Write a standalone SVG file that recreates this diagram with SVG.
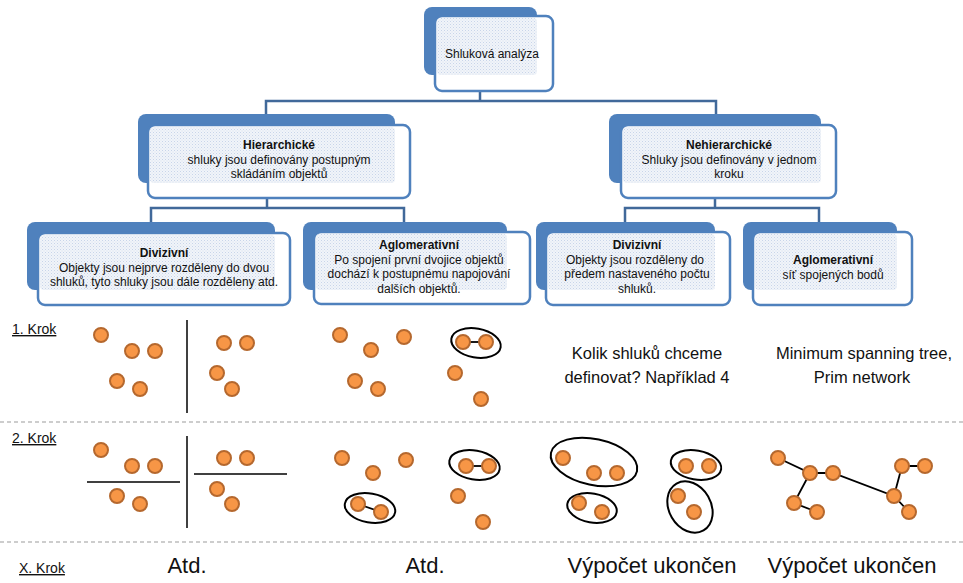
<svg xmlns="http://www.w3.org/2000/svg" width="963" height="583" viewBox="0 0 963 583">
<defs>
<pattern id="dots" width="3" height="3" patternUnits="userSpaceOnUse">
<rect width="3" height="3" fill="#F1F4F9"/>
<rect x="0" y="0" width="1" height="1" fill="#C8D5E9"/>
<rect x="1.5" y="1.5" width="1" height="1" fill="#D6E0EE"/>
</pattern>
</defs>
<style>
.back{fill:#4F81BD;}
.front{fill:#FFFFFF;stroke:#4F81BD;stroke-width:2.5;}
.pat{fill:url(#dots);}
.conn{fill:none;stroke:#41699A;stroke-width:2.5;}
.nt{font-family:"Liberation Sans",Arial,sans-serif;font-size:12px;fill:#111111;text-anchor:middle;}
.b{font-weight:bold;}
.dot{fill:#F79646;stroke:#B5682E;stroke-width:2;}
.ell{fill:none;stroke:#000;stroke-width:2;}
.ln{stroke:#000;stroke-width:1.8;fill:none;}
.sep{stroke:#000;stroke-width:1.5;}
.dash{stroke:#BDBDBD;stroke-width:1.5;stroke-dasharray:4 3;}
.lab{font-family:"Liberation Sans",Arial,sans-serif;font-size:14px;fill:#111;text-decoration:underline;}
.big{font-family:"Liberation Sans",Arial,sans-serif;font-size:16.5px;fill:#111;text-anchor:middle;}
.huge{font-family:"Liberation Sans",Arial,sans-serif;font-size:22px;fill:#111;text-anchor:middle;}
</style>
<rect width="963" height="583" fill="#FFFFFF"/>

<g id="connectors">
<path class="conn" d="M480,91 V101"/>
<path class="conn" d="M266,114 V101 H716 V114"/>
<path class="conn" d="M267,198 V208"/>
<path class="conn" d="M151,222 V208 H404 V222"/>
<path class="conn" d="M715,198 V208"/>
<path class="conn" d="M625,222 V208 H819 V222"/>
</g>

<g id="node-shlukova">
<rect class="back" x="424" y="7" width="113" height="68" rx="8"/>
<rect class="front" x="435" y="16" width="118" height="75" rx="7"/>
<rect class="pat" x="437" y="18" width="100" height="57" rx="4"/>
<text class="nt" x="492" y="58">Shluková analýza</text>
</g>

<g id="node-hierarchicke">
<rect class="back" x="138" y="114" width="257" height="69" rx="8"/>
<rect class="front" x="148" y="125" width="262" height="73" rx="7"/>
<rect class="pat" x="150" y="127" width="245" height="56" rx="4"/>
<text class="nt" x="279" y="149"><tspan class="b">Hierarchické</tspan><tspan x="279" dy="14.5">shluky jsou definovány postupným</tspan><tspan x="279" dy="14.5">skládáním objektů</tspan></text>
</g>

<g id="node-nehierarchicke">
<rect class="back" x="609" y="114" width="212" height="69" rx="8"/>
<rect class="front" x="621" y="125" width="215" height="73" rx="7"/>
<rect class="pat" x="623" y="127" width="198" height="56" rx="4"/>
<text class="nt" x="729" y="149"><tspan class="b">Nehierarchické</tspan><tspan x="729" dy="14.5">Shluky jsou definovány  v jednom</tspan><tspan x="729" dy="14.5">kroku</tspan></text>
</g>

<g id="node-div-h">
<rect class="back" x="27" y="222" width="248" height="68" rx="8"/>
<rect class="front" x="38" y="233" width="252" height="72" rx="7"/>
<rect class="pat" x="40" y="235" width="235" height="55" rx="4"/>
<text class="nt" x="164" y="257"><tspan class="b">Divizivní</tspan><tspan x="164" dy="14.5">Objekty jsou nejprve rozděleny do dvou</tspan><tspan x="164" dy="14.5">shluků, tyto shluky jsou dále rozděleny atd.</tspan></text>
</g>

<g id="node-aglo-h">
<rect class="back" x="303" y="222" width="204" height="68" rx="8"/>
<rect class="front" x="314" y="232" width="216" height="72" rx="7"/>
<rect class="pat" x="316" y="234" width="191" height="56" rx="4"/>
<text class="nt" x="419" y="249"><tspan class="b">Aglomerativní</tspan><tspan x="419" dy="14.5">Po spojení první dvojice objektů</tspan><tspan x="419" dy="14.5">dochází k postupnému napojování</tspan><tspan x="419" dy="14.5">dalších objektů.</tspan></text>
</g>

<g id="node-div-n">
<rect class="back" x="536" y="222" width="179" height="68" rx="8"/>
<rect class="front" x="546" y="232" width="184" height="73" rx="7"/>
<rect class="pat" x="548" y="234" width="167" height="56" rx="4"/>
<text class="nt" x="637" y="249"><tspan class="b">Divizivní</tspan><tspan x="635" dy="14.5">Objekty jsou rozděleny do</tspan><tspan x="637" dy="14.5">předem nastaveného počtu</tspan><tspan x="637" dy="14.5">shluků.</tspan></text>
</g>

<g id="node-aglo-n">
<rect class="back" x="743" y="222" width="154" height="68" rx="8"/>
<rect class="front" x="753" y="232" width="159" height="73" rx="7"/>
<rect class="pat" x="755" y="234" width="142" height="56" rx="4"/>
<text class="nt" x="833" y="264"><tspan class="b">Aglomerativní</tspan><tspan x="833" dy="14.5">síť spojených bodů</tspan></text>
</g>

<g id="separators">
<line class="dash" x1="0" y1="422" x2="963" y2="422"/>
<line class="dash" x1="0" y1="542" x2="963" y2="542"/>
</g>

<g id="row-labels">
<text class="lab" x="12" y="334">1. Krok</text>
<text class="lab" x="12" y="443">2. Krok</text>
<text class="lab" x="19" y="573" font-size="13">X. Krok</text>
</g>

<g id="step1">
<line class="sep" x1="187" y1="320" x2="187" y2="413"/>
<circle class="dot" cx="101" cy="335" r="7"/>
<circle class="dot" cx="132" cy="351" r="7"/>
<circle class="dot" cx="155" cy="351" r="7"/>
<circle class="dot" cx="117" cy="381" r="7"/>
<circle class="dot" cx="140" cy="389" r="7"/>
<circle class="dot" cx="224" cy="343" r="7"/>
<circle class="dot" cx="247" cy="343" r="7"/>
<circle class="dot" cx="217" cy="373" r="7"/>
<circle class="dot" cx="232" cy="389" r="7"/>

<circle class="dot" cx="340" cy="335" r="7"/>
<circle class="dot" cx="371" cy="350" r="7"/>
<circle class="dot" cx="404" cy="337" r="7"/>
<circle class="dot" cx="355" cy="381" r="7"/>
<circle class="dot" cx="378" cy="389" r="7"/>
<ellipse class="ell" cx="476" cy="343" rx="25" ry="14.5" transform="rotate(10 476 343)"/>
<line class="ln" x1="463" y1="342" x2="486" y2="342"/>
<circle class="dot" cx="463" cy="342" r="7"/>
<circle class="dot" cx="486" cy="342" r="7"/>
<circle class="dot" cx="455" cy="373" r="7"/>
<circle class="dot" cx="481" cy="399" r="7"/>

<text class="big" x="647" y="359">Kolik shluků chceme</text>
<text class="big" x="647" y="383">definovat? Například 4</text>
<text class="big" x="864" y="359">Minimum spanning tree,</text>
<text class="big" x="862" y="383">Prim network</text>
</g>

<g id="step2">
<line class="sep" x1="187" y1="436" x2="187" y2="528"/>
<line class="sep" x1="87" y1="482" x2="180" y2="482"/>
<line class="sep" x1="194" y1="474" x2="287" y2="474"/>
<circle class="dot" cx="101" cy="450" r="7"/>
<circle class="dot" cx="132" cy="466" r="7"/>
<circle class="dot" cx="155" cy="466" r="7"/>
<circle class="dot" cx="117" cy="496" r="7"/>
<circle class="dot" cx="140" cy="504" r="7"/>
<circle class="dot" cx="224" cy="458" r="7"/>
<circle class="dot" cx="247" cy="458" r="7"/>
<circle class="dot" cx="217" cy="489" r="7"/>
<circle class="dot" cx="232" cy="504" r="7"/>

<circle class="dot" cx="342" cy="458" r="7"/>
<circle class="dot" cx="373" cy="473" r="7"/>
<circle class="dot" cx="406" cy="460" r="7"/>
<ellipse class="ell" cx="370" cy="508" rx="25.5" ry="14.5" transform="rotate(10 370 508)"/>
<line class="ln" x1="358" y1="504" x2="381" y2="512"/>
<circle class="dot" cx="358" cy="504" r="7"/>
<circle class="dot" cx="381" cy="512" r="7"/>
<ellipse class="ell" cx="474.5" cy="465" rx="25.5" ry="14.5" transform="rotate(10 474.5 465)"/>
<line class="ln" x1="466" y1="466" x2="489" y2="466"/>
<circle class="dot" cx="466" cy="466" r="7"/>
<circle class="dot" cx="489" cy="466" r="7"/>
<circle class="dot" cx="458" cy="496" r="7"/>
<circle class="dot" cx="483" cy="522" r="7"/>

<ellipse class="ell" cx="594" cy="462" rx="44" ry="23" transform="rotate(12 594 462)"/>
<circle class="dot" cx="563" cy="458" r="7"/>
<circle class="dot" cx="594" cy="473" r="7"/>
<circle class="dot" cx="617" cy="473" r="7"/>
<ellipse class="ell" cx="592" cy="508" rx="25" ry="14.5" transform="rotate(10 592 508)"/>
<circle class="dot" cx="579" cy="503" r="7"/>
<circle class="dot" cx="602" cy="512" r="7"/>
<ellipse class="ell" cx="696" cy="465" rx="25.5" ry="14.5" transform="rotate(10 696 465)"/>
<circle class="dot" cx="686" cy="466" r="7"/>
<circle class="dot" cx="709" cy="466" r="7"/>
<ellipse class="ell" cx="690" cy="507" rx="27" ry="21" transform="rotate(60 690 507)"/>
<circle class="dot" cx="678" cy="496" r="7"/>
<circle class="dot" cx="694" cy="512" r="7"/>

<path class="ln" d="M778,458 L810,473 L833,473 L894,496 L902,466 L925,466 M810,473 L794,503 L817,512 M894,496 L909,512"/>
<circle class="dot" cx="778" cy="458" r="7"/>
<circle class="dot" cx="810" cy="473" r="7"/>
<circle class="dot" cx="833" cy="473" r="7"/>
<circle class="dot" cx="794" cy="503" r="7"/>
<circle class="dot" cx="817" cy="512" r="7"/>
<circle class="dot" cx="902" cy="466" r="7"/>
<circle class="dot" cx="925" cy="466" r="7"/>
<circle class="dot" cx="894" cy="496" r="7"/>
<circle class="dot" cx="909" cy="512" r="7"/>
</g>

<g id="stepX">
<text class="huge" x="187" y="573">Atd.</text>
<text class="huge" x="425" y="573">Atd.</text>
<text class="huge" x="652" y="573">Výpočet ukončen</text>
<text class="huge" x="852" y="573">Výpočet ukončen</text>
</g>
</svg>
